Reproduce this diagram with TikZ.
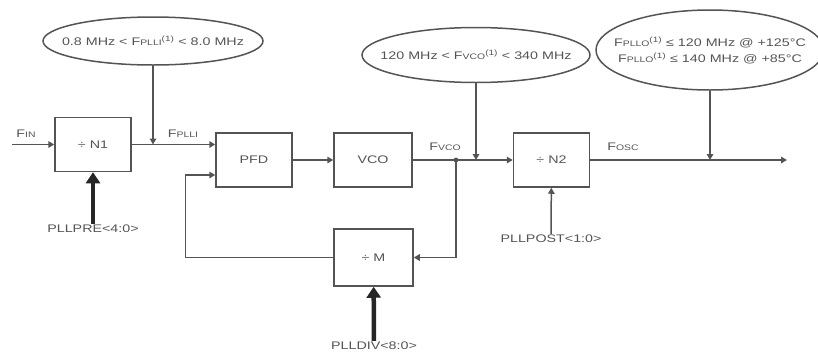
\documentclass[tikz,border=0pt]{standalone}
\usepackage{fontspec}
\setmainfont{Liberation Sans}[FakeStretch=1.3]
\usepackage{tikz}
\usetikzlibrary{arrows.meta,shapes.geometric}
\definecolor{ink}{rgb}{0.33,0.33,0.33}
\newcommand{\lsub}[1]{{\fontsize{8}{9}\selectfont #1}}
\newcommand{\lsup}[1]{\textsuperscript{#1}}

\begin{document}
\begin{tikzpicture}[x=1pt,y=-1pt,
  font=\fontsize{11}{16}\selectfont,text=ink,
  blk/.style={draw=ink,line width=1.5pt,minimum width=76pt,
              minimum height=54pt,inner sep=0pt},
  lim/.style={ellipse,draw=ink,line width=1.5pt,inner sep=0pt},
  lbl/.style={inner sep=1pt},
  ar/.style={draw=ink,line width=1.5pt,-{Triangle[length=6pt,width=6.5pt]}},
  big/.style={draw=black!85,line width=4.5pt,-{Triangle[length=11pt,width=14pt]}}]
\useasboundingbox (0,0) rectangle (818,354);

\node[lim,minimum width=220pt,minimum height=48pt,
  label=center:{0.8 MHz < F\lsub{PLLI}\lsup{(1)} < 8.0 MHz}] (e1) at (153,41) {};
\node[lim,minimum width=228pt,minimum height=55pt,
  label=center:{120 MHz < F\lsub{VCO}\lsup{(1)} < 340 MHz}] (e2) at (476,55) {};
\node[lim,minimum width=228pt,minimum height=80pt,
  label={[align=center]center:{F\lsub{PLLO}\lsup{(1)} ≤ 120 MHz @ +125°C\\
    F\lsub{PLLO}\lsup{(1)} ≤ 140 MHz @ +85°C}}] (e3) at (710,50) {};

\node[blk] (n1) at (93,144.5) {÷ N1};
\node[blk] (pfd) at (254,160) {PFD};
\node[blk,minimum width=78pt] (vco) at (373,160) {VCO};
\node[blk] (n2) at (551.5,160) {÷ N2};
\node[blk,minimum width=79pt,minimum height=57pt] (m) at (373.5,257.5) {÷ M};

\node[lbl] (fin) at (26,134) {F\lsub{IN}};
\node[lbl] (fplli) at (183,134) {F\lsub{PLLI}};
\node[lbl] (fvco) at (445,147) {F\lsub{VCO}};
\node[lbl] (fosc) at (623,147) {F\lsub{OSC}};
\node[lbl] (pllpre) at (93,229) {PLLPRE<4:0>};
\node[lbl] (pllpost) at (551,239) {PLLPOST<1:0>};
\node[lbl] (plldiv) at (374,346) {PLLDIV<8:0>};

\coordinate (in) at (12,144.5);
\coordinate (jn) at (456,160);
\coordinate (out) at (787,160);

\draw[ar] (in) -- (n1.west);
\draw[ar] (n1.east) -- (n1.east -| pfd.west);
\draw[ar] (e1.south) -- (e1.south |- n1.east);
\draw[ar] (pfd) -- (vco);
\draw[ar] (vco) -- (n2);
\draw[ar] (e2.south) -- (e2.south |- n2.west);
\draw[ar] (n2) -- (out);
\draw[ar] (e3.south) -- (e3.south |- out);
\draw[ar] (jn) |- (m.east);
\draw[ar] (m.west) -- ++(-148,0) |- ([yshift=-15pt]pfd.west);
\fill[ink] (jn) circle (2.4pt);
\draw[big] (pllpre) -- (n1);
\draw[ar] (pllpost) -- (n2);
\draw[big] (plldiv) -- (m);
\end{tikzpicture}
\end{document}
